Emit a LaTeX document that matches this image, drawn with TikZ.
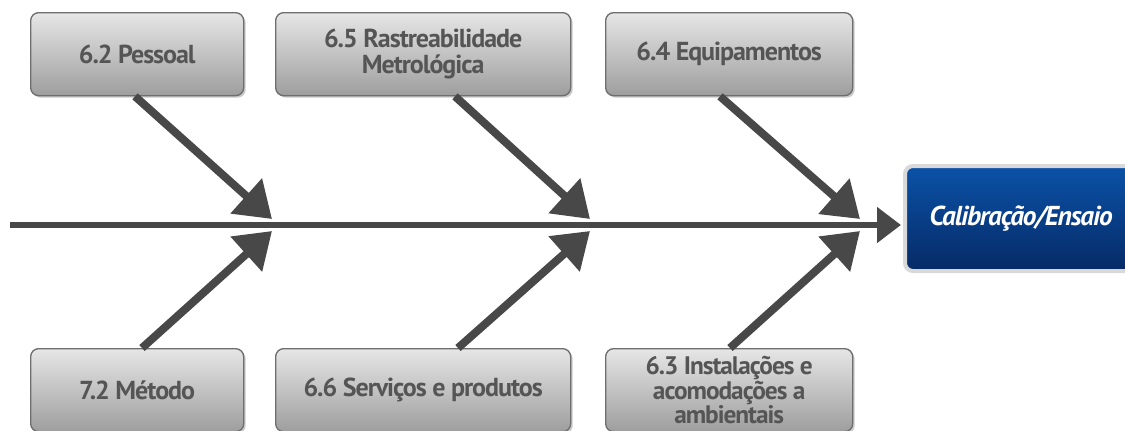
\documentclass[tikz,border=0pt]{standalone}
\usepackage{fontspec}
\setmainfont{PT Sans}
\newfontfamily\boxfont[LetterSpace=-4]{PT Sans}
\usetikzlibrary{arrows.meta,shadows}
\definecolor{txtgray}{HTML}{555555}
\definecolor{bonegray}{HTML}{484848}
\definecolor{boxtop}{HTML}{E6E6E6}
\definecolor{boxbot}{HTML}{9E9E9E}
\definecolor{boxline}{HTML}{6E6E6E}
\definecolor{headtop}{HTML}{0B52A8}
\definecolor{headbot}{HTML}{062A66}
\newlength{\pxu}\setlength{\pxu}{0.75pt}
\tikzset{
  catbox/.style={draw=boxline, line width=1pt, rounded corners=6pt,
    top color=boxtop, bottom color=boxbot, minimum width=213\pxu, minimum height=83\pxu,
    anchor=north west, inner sep=0pt, align=center, text=txtgray,
    font=\boxfont\fontsize{19.5}{19.5}\selectfont\bfseries,
    drop shadow={shadow xshift=1.5pt, shadow yshift=-1.5pt, opacity=0.35, fill=black!60}},
  headbox/.style={draw=black!15, line width=3pt, rounded corners=6pt,
    top color=headtop, bottom color=headbot, minimum width=240\pxu, minimum height=105\pxu,
    anchor=north west, inner sep=0pt, text=white,
    font=\boxfont\fontsize{20.5}{20}\selectfont\bfseries\itshape},
  bone/.style={draw=bonegray, line width=6pt, -{Triangle[length=26pt,width=34pt]}},
  spine/.style={draw=bonegray, line width=5pt, -{Triangle[length=18pt,width=26pt]}}
}
\begin{document}
\begin{tikzpicture}[x=0.75pt,y=-0.75pt]
\useasboundingbox (0,0) rectangle (1125,430);
\clip (0,0) rectangle (1125,430);
% top boxes
\node[catbox] (b62) at (30,12) {6.2 Pessoal};
\node[catbox, minimum width=295\pxu] (b65) at (275,12) {6.5 Rastreabilidade\\Metrológica};
\node[catbox, minimum width=247\pxu] (b64) at (605,12) {6.4 Equipamentos};
% bottom boxes
\node[catbox] (b72) at (30,348) {7.2 Método};
\node[catbox, minimum width=295\pxu] (b66) at (275,348) {6.6 Serviços e produtos};
\node[catbox, minimum width=247\pxu, font=\boxfont\fontsize{19}{14}\selectfont\bfseries] (b63) at (605,348) {6.3 Instalações e\\acomodações a\\ambientais};
% head
\node[headbox] (head) at (903,164) {\hspace*{2pt}Calibração/Ensaio\hspace*{8pt}};
\path (head.west) ++(-2,0) coordinate (hw);
% spine
\coordinate (s0) at (10,225);
\draw[spine] (s0) -- (hw |- s0);
% tips
\coordinate (t1) at (272,219);
\coordinate (t2) at (272,231);
\coordinate (t3) at (590,219);
\coordinate (t4) at (590,231);
\coordinate (t5) at (860,219);
\coordinate (t6) at (860,231);
\draw[bone] (b62.south west) ++(105,0) coordinate (c1) (c1) -- (t1);
\draw[bone] (b72.north west) ++(112,0) coordinate (c2) (c2) -- (t2);
\draw[bone] (b65.south west) ++(180,0) coordinate (c3) (c3) -- (t3);
\draw[bone] (b66.north west) ++(183,0) coordinate (c4) (c4) -- (t4);
\draw[bone] (b64.south west) ++(115,0) coordinate (c5) (c5) -- (t5);
\draw[bone] (b63.north west) ++(125,0) coordinate (c6) (c6) -- (t6);
\end{tikzpicture}
\end{document}
